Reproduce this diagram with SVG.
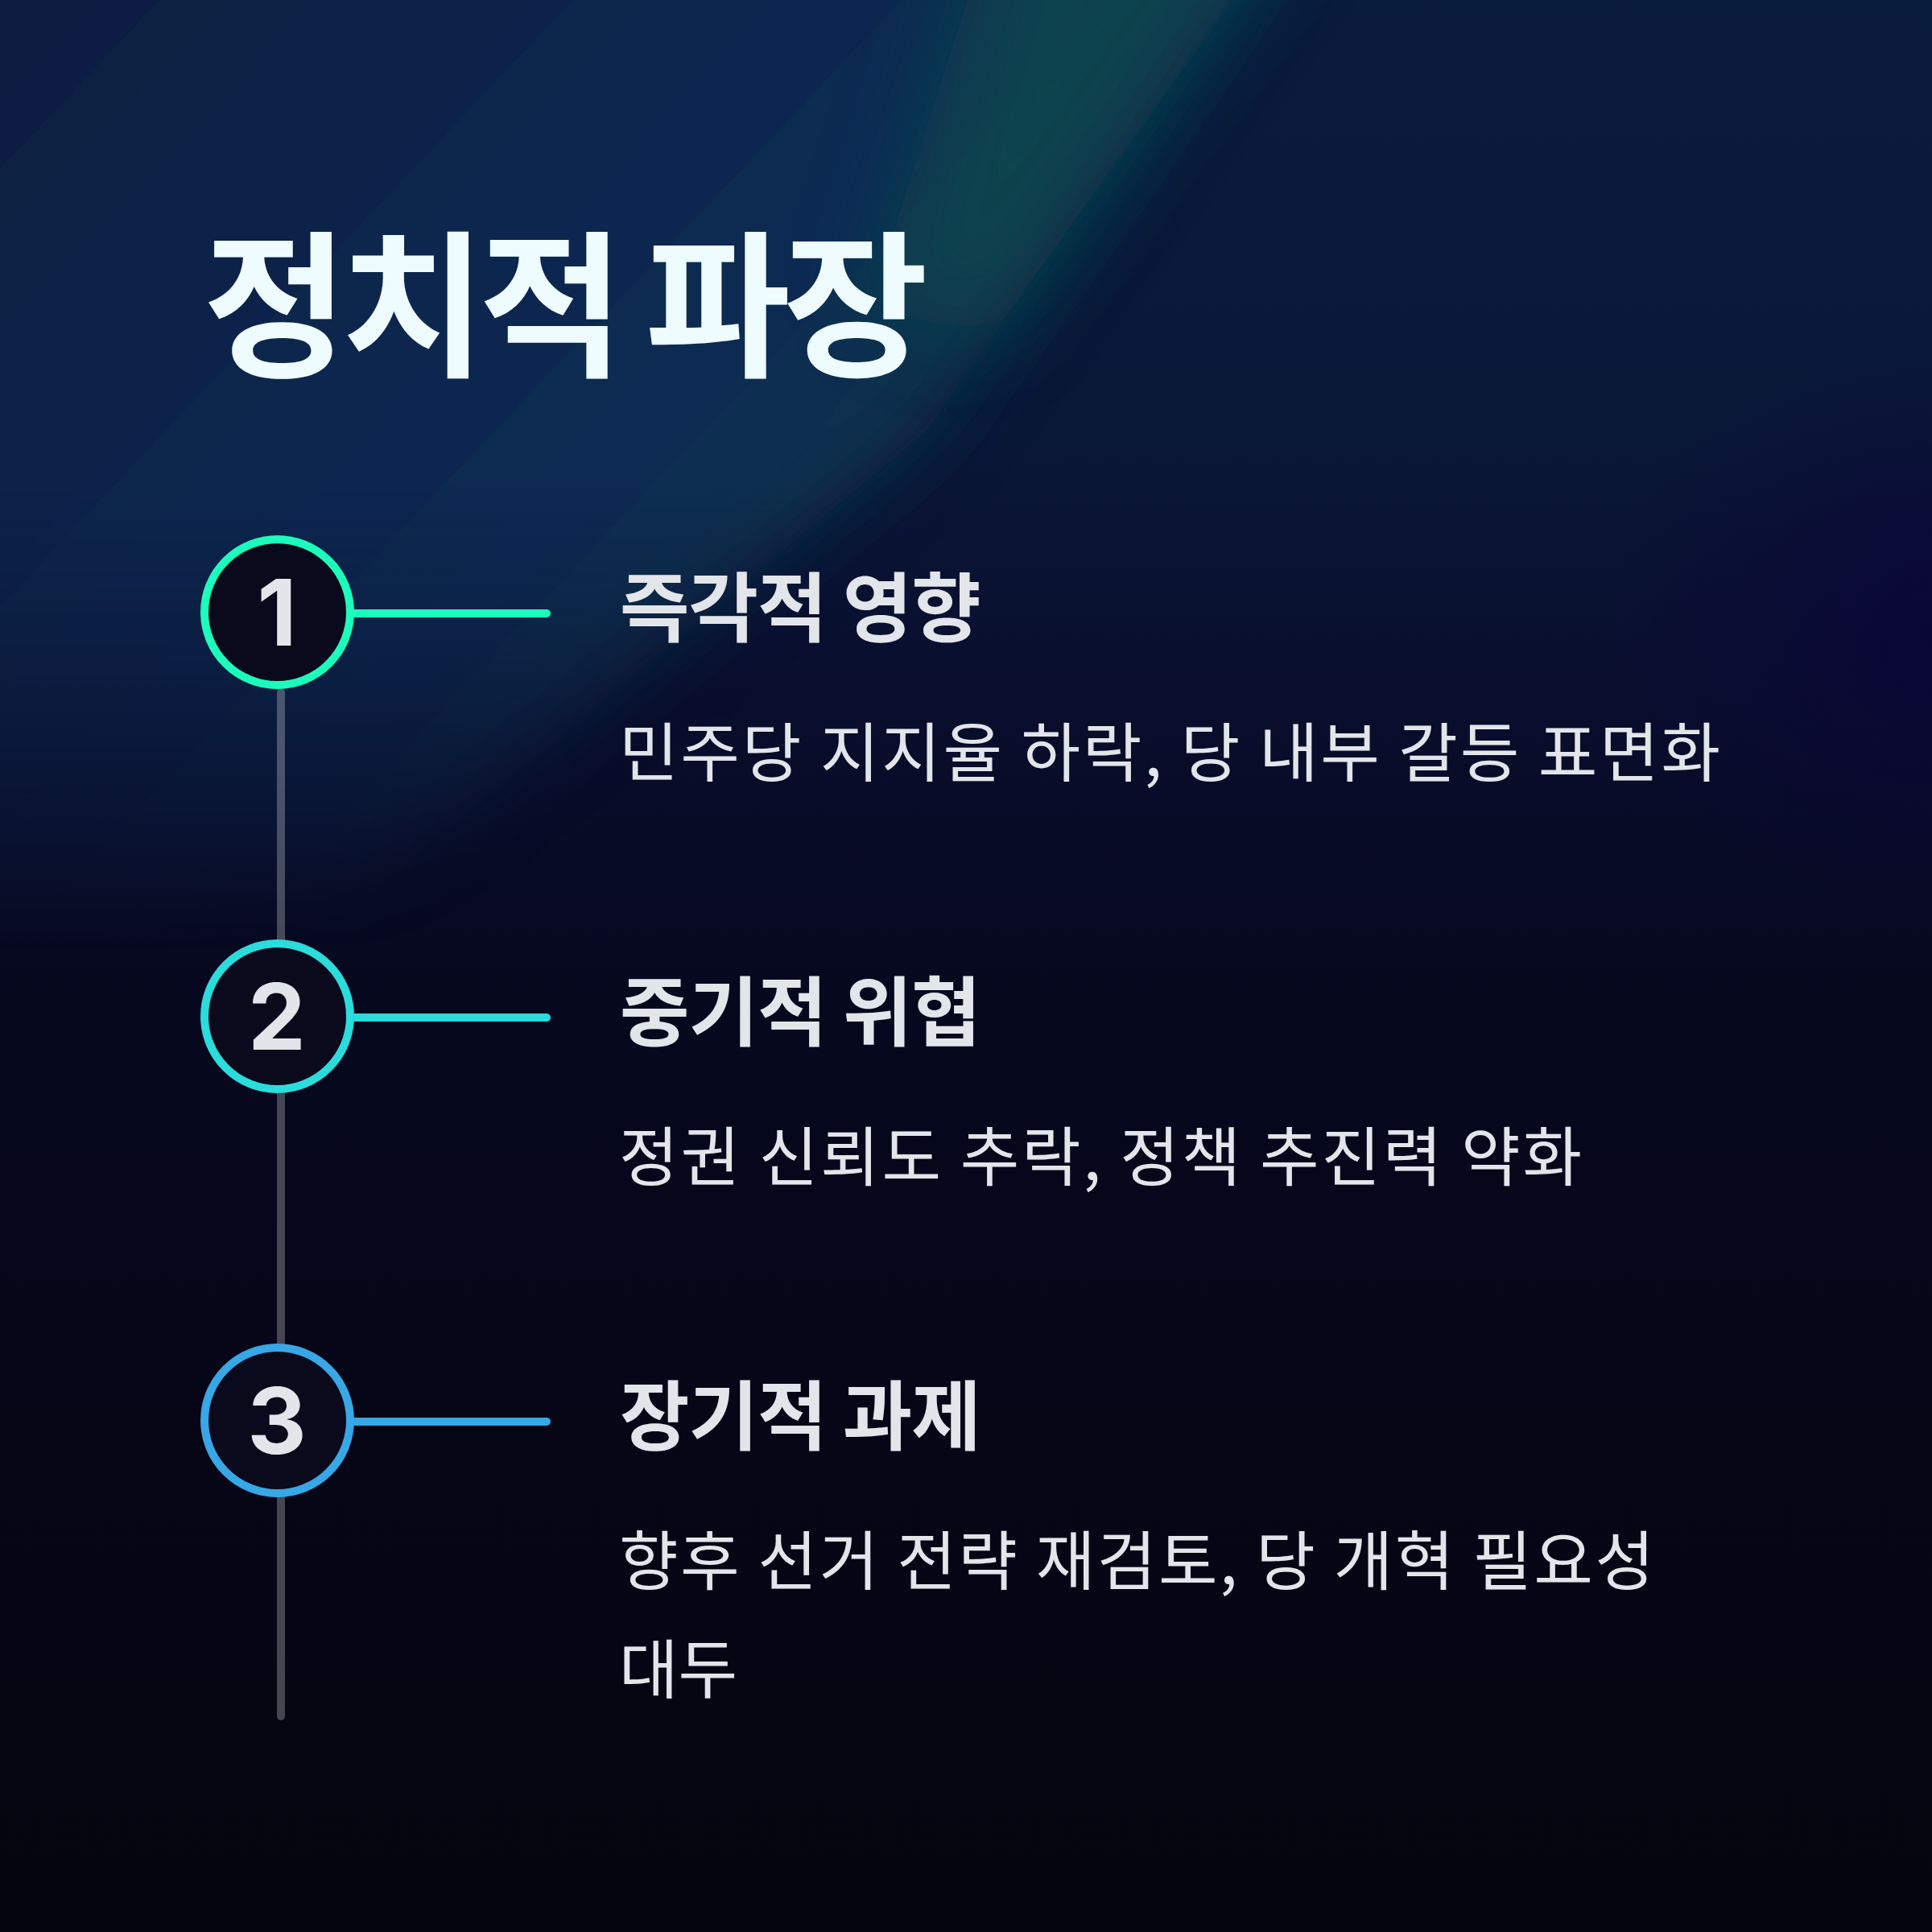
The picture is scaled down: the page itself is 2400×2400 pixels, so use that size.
<svg xmlns="http://www.w3.org/2000/svg" width="2400" height="2400" viewBox="0 0 2400 2400">
<style>
.title{font-family:"Noto Sans CJK KR","Noto Sans",sans-serif;font-weight:700;font-size:196px;fill:#eefcff;letter-spacing:-9px}
.head{font-family:"Noto Sans CJK KR","Noto Sans",sans-serif;font-weight:700;font-size:94px;fill:#e2e5e9;letter-spacing:-1px}
.desc{font-family:"Noto Sans CJK KR","Noto Sans",sans-serif;font-weight:400;font-size:80px;fill:#e2e5e9}
.num{font-family:Inter,"Liberation Sans",sans-serif;font-weight:700;font-size:114px;fill:#e2e5e9;text-anchor:middle}
.ring{fill:#0a0a1c;stroke-width:10}
.conn{stroke-width:10;stroke-linecap:round;fill:none}
</style>
<defs>
<linearGradient id="bg" x1="0" y1="0" x2="0" y2="1">
<stop offset="0" stop-color="#0a1c3e"/>
<stop offset="0.22" stop-color="#0a1838"/>
<stop offset="0.36" stop-color="#090e2d"/>
<stop offset="0.52" stop-color="#06081e"/>
<stop offset="0.7" stop-color="#060618"/>
<stop offset="1" stop-color="#05050f"/>
</linearGradient>
<linearGradient id="beam" gradientUnits="userSpaceOnUse" x1="1000" y1="560" x2="100" y2="-290">
<stop offset="0" stop-color="#0a3050"/>
<stop offset="0.15" stop-color="#0a2a52"/>
<stop offset="0.45" stop-color="#0a254c"/>
<stop offset="0.75" stop-color="#0a2043"/>
<stop offset="1" stop-color="#0a1c3e"/>
</linearGradient>
<linearGradient id="fade" gradientUnits="userSpaceOnUse" x1="0" y1="600" x2="0" y2="1180">
<stop offset="0" stop-color="#ffffff"/>
<stop offset="1" stop-color="#000000"/>
</linearGradient>
<mask id="beamMask" maskUnits="userSpaceOnUse" x="0" y="0" width="2400" height="2400">
<rect x="0" y="0" width="2400" height="2400" fill="url(#fade)"/>
</mask>
<radialGradient id="purp" cx="0.5" cy="0.5" r="0.5">
<stop offset="0" stop-color="#0a0638" stop-opacity="0.9"/>
<stop offset="1" stop-color="#0a0638" stop-opacity="0"/>
</radialGradient>
<filter id="blur" x="-50%" y="-50%" width="200%" height="200%"><feGaussianBlur stdDeviation="45"/></filter>
<filter id="blur2" x="-50%" y="-50%" width="200%" height="200%"><feGaussianBlur stdDeviation="55"/></filter>
</defs>
<g id="background">
<rect x="0" y="0" width="2400" height="2400" fill="url(#bg)"/>
<g mask="url(#beamMask)">
<polygon points="-500,-500 1700,-500 1560,-50 1150,536 690,918 420,1140 -500,1300" fill="url(#beam)" filter="url(#blur)"/>
</g>
<polygon points="1250,-150 1640,-150 1230,420 1080,380" fill="#0d4a4e" filter="url(#blur2)" opacity="0.8"/>
<ellipse cx="2420" cy="780" rx="430" ry="360" fill="url(#purp)"/>
</g>
<g id="title"><text class="title" x="252" y="452">정치적 파장</text></g>
<g id="connectors">
<line x1="349" y1="860" x2="349" y2="2132" stroke="#ffffff" stroke-opacity="0.26" class="conn"/>
<line x1="440" y1="762" x2="679" y2="762" stroke="#1cfdbc" class="conn"/>
<line x1="440" y1="1264" x2="679" y2="1264" stroke="#2adcdb" class="conn"/>
<line x1="440" y1="1766" x2="679" y2="1766" stroke="#37a7e6" class="conn"/>
</g>
<g id="node1">
<circle class="ring" cx="344.5" cy="760.5" r="90.5" stroke="#1cfdbc"/>
<text class="num" x="344" y="802">1</text>
<text class="head" x="770" y="790">즉각적 영향</text>
<text class="desc" x="769" y="964" textLength="1368" lengthAdjust="spacing">민주당 지지율 하락, 당 내부 갈등 표면화</text>
</g>
<g id="node2">
<circle class="ring" cx="344.5" cy="1262.5" r="90.5" stroke="#2adcdb"/>
<text class="num" x="344" y="1304">2</text>
<text class="head" x="770" y="1292">중기적 위협</text>
<text class="desc" x="769" y="1466" textLength="1196" lengthAdjust="spacing">정권 신뢰도 추락, 정책 추진력 약화</text>
</g>
<g id="node3">
<circle class="ring" cx="344.5" cy="1764.5" r="90.5" stroke="#37a7e6"/>
<text class="num" x="344" y="1806">3</text>
<text class="head" x="770" y="1794">장기적 과제</text>
<text class="desc" x="769" y="1968" textLength="1286" lengthAdjust="spacing">향후 선거 전략 재검토, 당 개혁 필요성</text>
<text class="desc" x="769" y="2103">대두</text>
</g>
</svg>
